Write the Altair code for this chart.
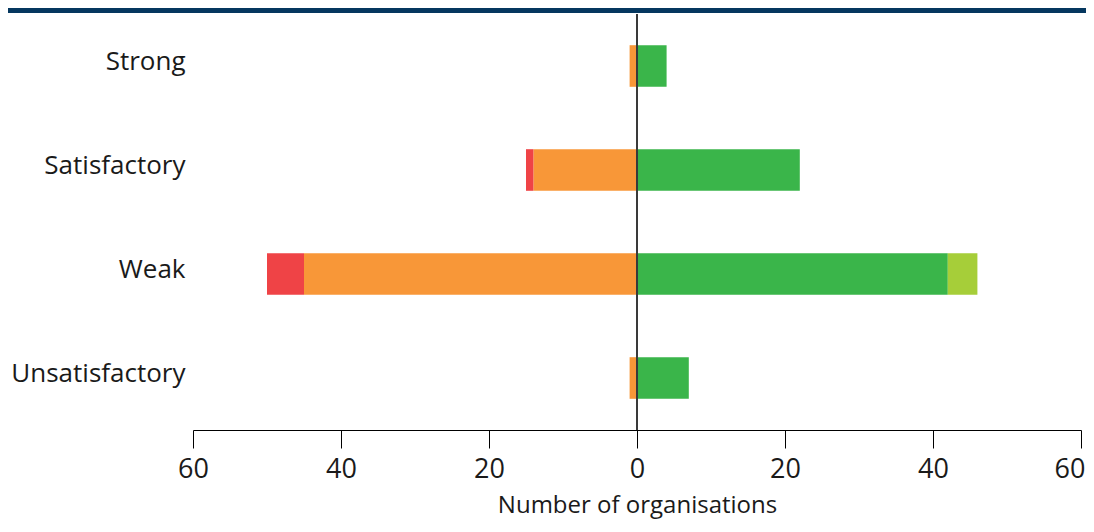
import altair as alt
import pandas as pd

categories = ["Strong", "Satisfactory", "Weak", "Unsatisfactory"]
neg_inner = [1, 14, 45, 1]   # orange, left of zero
neg_outer = [0, 1, 5, 0]     # red, further left
pos_inner = [4, 22, 42, 7]   # green, right of zero
pos_outer = [0, 0, 4, 0]     # light green, further right
series_names = ["Orange", "Red", "Green", "Light green"]
series_colors = ["#F89738", "#EF4346", "#3AB54A", "#A6CE39"]
tick_values = [-60, -40, -20, 0, 20, 40, 60]

rows = []
for i, c in enumerate(categories):
    rows.append(dict(category=c, series=series_names[0], start=0, end=-neg_inner[i]))
    rows.append(dict(category=c, series=series_names[1], start=-neg_inner[i],
                     end=-(neg_inner[i] + neg_outer[i])))
    rows.append(dict(category=c, series=series_names[2], start=0, end=pos_inner[i]))
    rows.append(dict(category=c, series=series_names[3], start=pos_inner[i],
                     end=pos_inner[i] + pos_outer[i]))
df = pd.DataFrame(rows)
df = df[df["start"] != df["end"]]

W, H = 888, 416
FONT = "Open Sans"

bars = alt.Chart(df).mark_bar().encode(
    y=alt.Y("category:N", sort=categories,
            scale=alt.Scale(paddingInner=0.6, paddingOuter=0.3),
            axis=alt.Axis(title=None, domain=False, ticks=False, labelFontSize=26,
                          labelFont=FONT, labelColor="#1a1a1a", labelPadding=8,
                          labelOffset=-4)),
    x=alt.X("start:Q", scale=alt.Scale(domain=[-60, 60], nice=False, zero=False),
            axis=alt.Axis(values=tick_values, labelExpr="format(abs(datum.value), 'd')",
                          grid=False, tickSize=18, domainColor="#000000", tickColor="#000000",
                          labelFontSize=27, labelFont=FONT, labelColor="#1a1a1a",
                          labelFlush=False, labelBound=False, labelOverlap=False,
                          labelAlign=alt.ExprRef(expr="datum.value == 60 ? 'right' : 'center'"),
                          labelOffset=alt.ExprRef(expr="datum.value == 60 ? 4 : 0"),
                          labelPadding=8, title="Number of organisations",
                          titleFontSize=24, titleFont=FONT, titleFontWeight="normal",
                          titleColor="#1a1a1a", titlePadding=11)),
    x2="end:Q",
    color=alt.Color("series:N", scale=alt.Scale(domain=series_names, range=series_colors),
                    legend=None),
)

zero_rule = alt.Chart(pd.DataFrame({"x": [0]})).mark_rule(
    color="#3a3a3a", strokeWidth=2).encode(x="x:Q")

band = alt.Chart(pd.DataFrame({"a": [0]})).mark_rect(color="#05375F", clip=False).encode(
    x=alt.value(-185), x2=alt.value(W + 6), y=alt.value(-6), y2=alt.value(-1))

chart = alt.layer(bars, zero_rule, band).properties(
    width=W, height=H,
    autosize=alt.AutoSizeParams(type="none"),
    padding={"left": 185, "top": 6, "right": 5, "bottom": 94},
).configure_view(stroke=None)

chart.save("out.html", embed_options={"renderer": "svg", "actions": False})
